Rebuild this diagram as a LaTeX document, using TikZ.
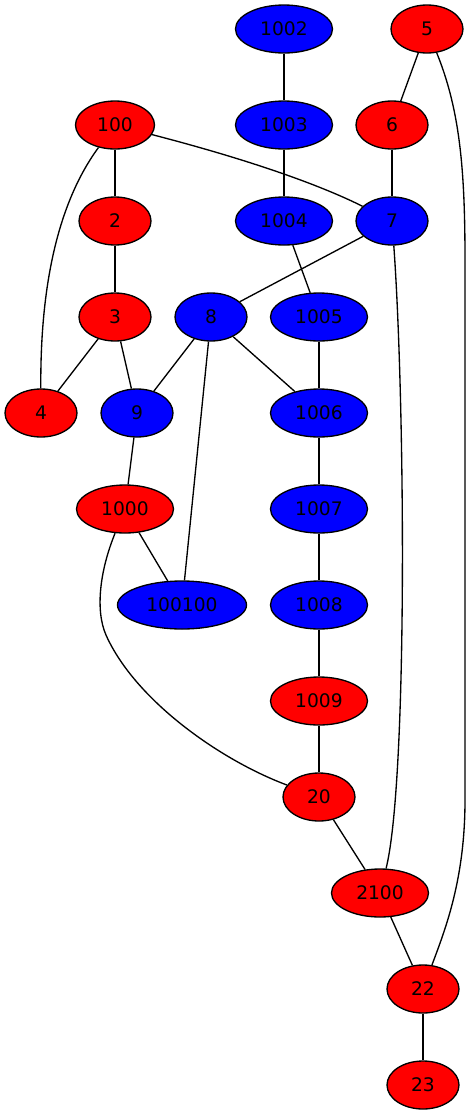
\documentclass[tikz,border=0pt]{standalone}
\usepackage{fontspec}
\setmainfont{DejaVu Sans}
\usetikzlibrary{shapes.geometric}
\begin{document}
\begin{tikzpicture}[x=0.75pt,y=-0.75pt,
  gv/.style={ellipse,draw=black,line width=1pt,inner sep=0pt,minimum height=36pt,minimum width=54pt,font=\fontsize{14}{16}\selectfont,text=black},
  rn/.style={gv,fill=red},
  bn/.style={gv,fill=blue},
  w3/.style={minimum width=59.25pt},
  w4/.style={minimum width=72.75pt},
  w6/.style={minimum width=96.75pt},
  edge/.style={draw=black,line width=1pt}]
\useasboundingbox (0,0) rectangle (471,1115);
% nodes
\node[bn,w4] (n1002) at (284,29) {1002};
\node[rn] (n5) at (427,29) {5};
\node[rn,w3] (n100) at (115,125) {100};
\node[bn,w4] (n1003) at (284,125) {1003};
\node[rn] (n6) at (392,125) {6};
\node[rn] (n2) at (115,221) {2};
\node[bn,w4] (n1004) at (284,221) {1004};
\node[bn] (n7) at (392,221) {7};
\node[rn] (n3) at (115,317) {3};
\node[bn] (n8) at (211,317) {8};
\node[bn,w4] (n1005) at (319,317) {1005};
\node[rn] (n4) at (41,413) {4};
\node[bn] (n9) at (137,413) {9};
\node[bn,w4] (n1006) at (319,413) {1006};
\node[rn,w4] (n1000) at (125,509) {1000};
\node[bn,w4] (n1007) at (319,509) {1007};
\node[bn,w6] (n100100) at (182,605) {100100};
\node[bn,w4] (n1008) at (319,605) {1008};
\node[rn,w4] (n1009) at (319,701) {1009};
\node[rn] (n20) at (319,797) {20};
\node[rn,w4] (n2100) at (380,893) {2100};
\node[rn] (n22) at (423,989) {22};
\node[rn] (n23) at (423,1085) {23};
% straight edges
\draw[edge] (n1002) -- (n1003);
\draw[edge] (n1003) -- (n1004);
\draw[edge] (n1004) -- (n1005);
\draw[edge] (n1005) -- (n1006);
\draw[edge] (n1006) -- (n1007);
\draw[edge] (n1007) -- (n1008);
\draw[edge] (n1008) -- (n1009);
\draw[edge] (n1009) -- (n20);
\draw[edge] (n20) -- (n2100);
\draw[edge] (n2100) -- (n22);
\draw[edge] (n22) -- (n23);
\draw[edge] (n5) -- (n6);
\draw[edge] (n6) -- (n7);
\draw[edge] (n100) -- (n2);
\draw[edge] (n2) -- (n3);
\draw[edge] (n3) -- (n4);
\draw[edge] (n3) -- (n9);
\draw[edge] (n7) -- (n8);
\draw[edge] (n8) -- (n9);
\draw[edge] (n8) -- (n1006);
\draw[edge] (n8) -- (n100100);
\draw[edge] (n9) -- (n1000);
\draw[edge] (n1000) -- (n100100);
% curved edges
\draw[edge] (n100) .. controls (250,160) and (320,185) .. (n7);
\draw[edge] (n100) .. controls (60,200) and (40,280) .. (n4);
\draw[edge] (n7) .. controls (405,400) and (408,780) .. (n2100);
\draw[edge] (n5) .. controls (460,110) and (465,170) .. (465,260) -- (465,800) .. controls (465,880) and (445,930) .. (n22);
\draw[edge] (n1000) .. controls (100,570) and (95,610) .. (106,635) .. controls (135,700) and (220,760) .. (n20);
\end{tikzpicture}
\end{document}
